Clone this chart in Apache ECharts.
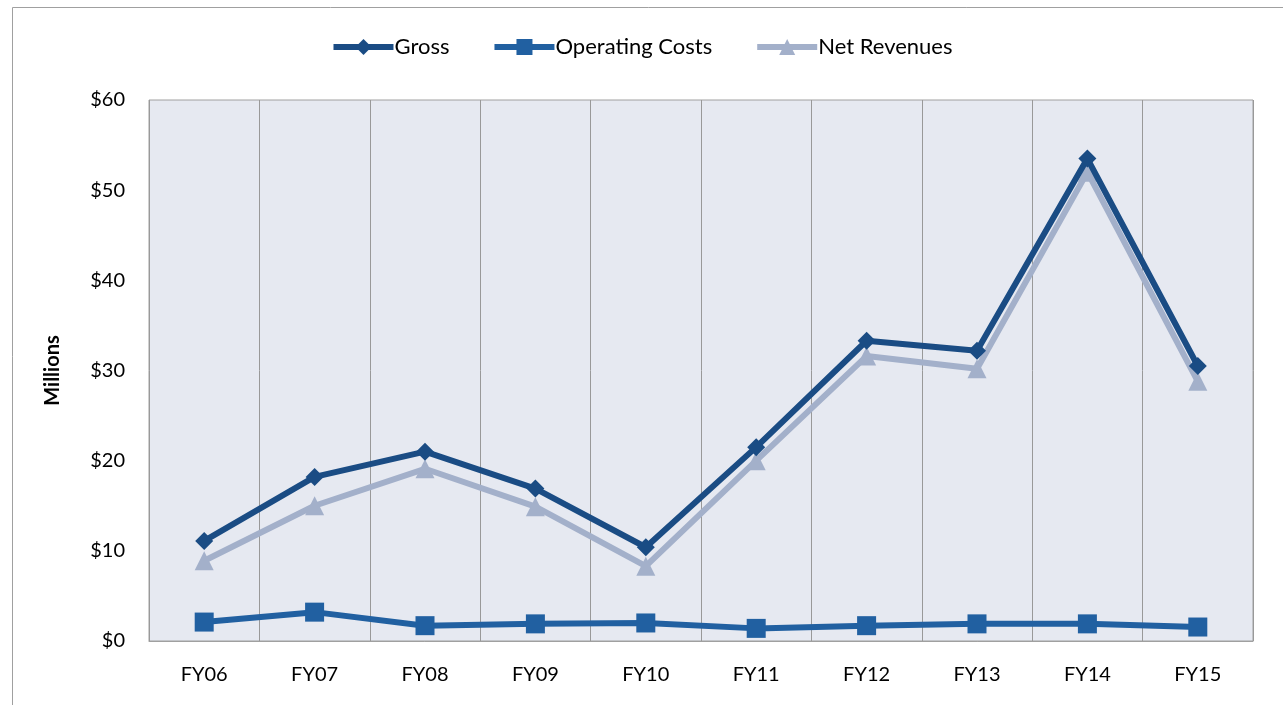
<!DOCTYPE html>
<html>
<head>
<meta charset="utf-8">
<script src="https://cdn.jsdelivr.net/npm/echarts@6/dist/echarts.min.js"></script>
<style>
  html, body { margin: 0; padding: 0; background: #fff; }
  #main { width: 1283px; height: 705px; }
</style>
</head>
<body>
<div id="main"></div>
<script>
// chart data
var categories = ['FY06', 'FY07', 'FY08', 'FY09', 'FY10', 'FY11', 'FY12', 'FY13', 'FY14', 'FY15'];
var gross = [11.1, 18.2, 21.0, 16.9, 10.4, 21.5, 33.3, 32.2, 53.5, 30.5];
var operatingCosts = [2.1, 3.2, 1.7, 1.9, 2.0, 1.4, 1.7, 1.9, 1.9, 1.55];
var netRevenues = [8.9, 15.0, 19.1, 14.9, 8.3, 20.0, 31.6, 30.2, 52.0, 28.8];
var yTicks = [0, 10, 20, 30, 40, 50, 60];

var myChart = echarts.init(document.getElementById('main'));

var font = 'Lato, "Open Sans", sans-serif';

var option = {
    animation: false,
    textStyle: { fontFamily: font },
    graphic: [
        {
            type: 'rect',
            left: 10, top: 5,
            shape: { width: 1290, height: 720 },
            style: { fill: 'none', stroke: '#a0a0a0', lineWidth: 1 },
            silent: true
        }
    ],
    legend: {
        top: 31,
        left: 'center',
        itemWidth: 60,
        itemHeight: 20,
        itemGap: 42,
        lineStyle: { width: 6 },
        textStyle: { fontSize: 22, color: '#000', fontFamily: font, padding: [0, 0, 0, -4] },
        data: ['Gross', 'Operating Costs', 'Net Revenues']
    },
    grid: {
        left: 149,
        right: 30,
        top: 100,
        bottom: 64,
        show: true,
        backgroundColor: '#e6e9f1',
        borderColor: '#a0a0a0',
        borderWidth: 1
    },
    xAxis: {
        type: 'category',
        data: categories,
        boundaryGap: true,
        axisLine: { show: true, lineStyle: { color: '#a0a0a0', width: 1 } },
        axisTick: { show: false },
        splitLine: { show: true, lineStyle: { color: '#999', width: 1 } },
        axisLabel: { color: '#000', fontSize: 20, margin: 24, fontFamily: font }
    },
    yAxis: {
        type: 'value',
        min: yTicks[0],
        max: yTicks[yTicks.length - 1],
        interval: 10,
        name: 'Millions',
        nameLocation: 'middle',
        nameGap: 86,
        nameTextStyle: { fontSize: 20, fontWeight: 'bold', color: '#000', fontFamily: font },
        axisLine: { show: false },
        axisTick: { show: false },
        splitLine: { show: false },
        axisLabel: {
            color: '#000', fontSize: 20, margin: 24, fontFamily: font,
            formatter: function (v) { return '$' + v; }
        }
    },
    series: [
        {
            name: 'Gross',
            type: 'line',
            data: gross,
            z: 4,
            symbol: 'diamond',
            symbolSize: 18,
            itemStyle: { color: '#1a4c84' },
            lineStyle: { color: '#1a4c84', width: 6 }
        },
        {
            name: 'Operating Costs',
            type: 'line',
            data: operatingCosts,
            z: 3,
            symbol: 'rect',
            symbolSize: 19,
            itemStyle: { color: '#2160a1' },
            lineStyle: { color: '#2160a1', width: 6 }
        },
        {
            name: 'Net Revenues',
            type: 'line',
            data: netRevenues,
            z: 2,
            symbol: 'triangle',
            symbolSize: 19,
            itemStyle: { color: '#a3b0ca' },
            lineStyle: { color: '#a3b0ca', width: 6 }
        }
    ]
};

myChart.setOption(option);
</script>
</body>
</html>
